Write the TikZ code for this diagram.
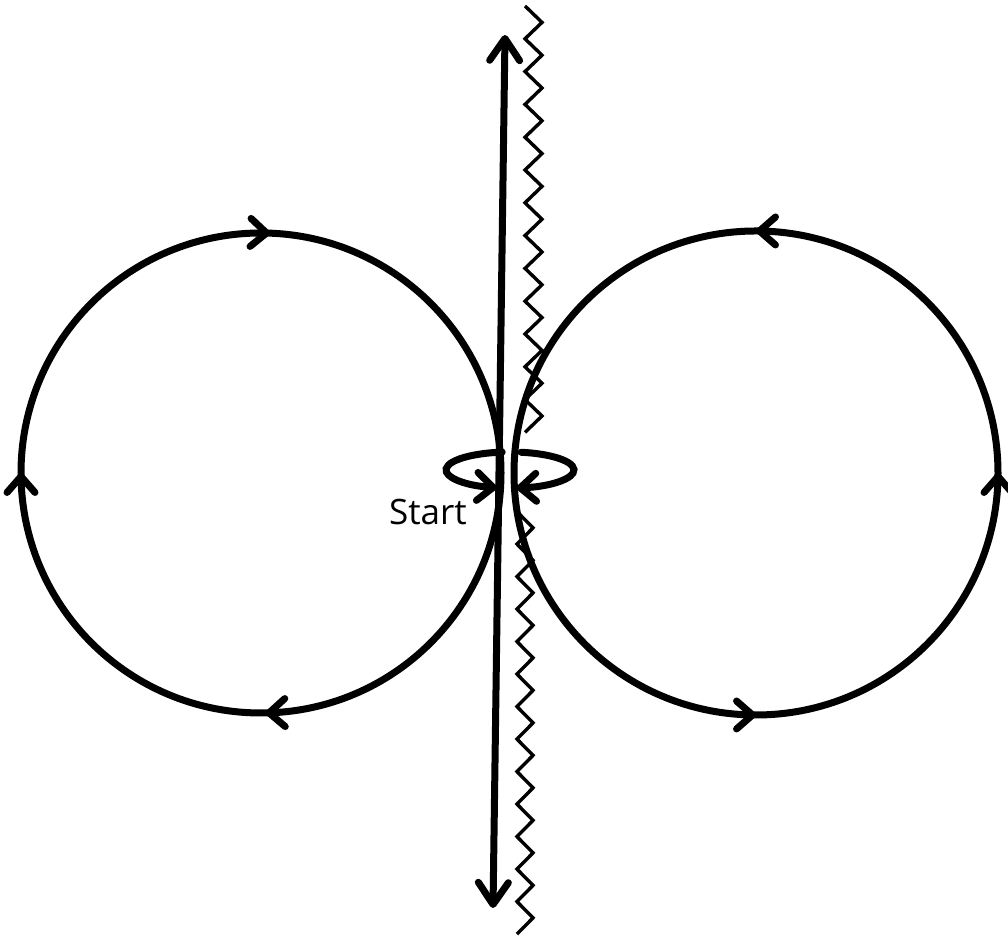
\documentclass[tikz,border=0pt]{standalone}
\usepackage{fontspec}
\setmainfont{Open Sans}
\usetikzlibrary{arrows.meta}
\usetikzlibrary{decorations.markings}

\begin{document}
\begin{tikzpicture}[x=0.5pt, y=0.5pt,
  thickline/.style={line width=3.5pt, line cap=round},
  chev/.tip={Straight Barb[length=8pt, width=14pt, round]},
  bigtip/.tip={Straight Barb[length=11pt, width=15pt, round]},
  flowmark/.style={postaction={decorate, decoration={markings, mark=at position #1 with {\arrow{chev}}}}},
  cutline/.style={line width=1.7pt}]

\useasboundingbox (0,0) rectangle (1008,942);

\coordinate (lc) at (261,469);
\coordinate (rc) at (756,469);
\coordinate (sc) at (510,472);
\coordinate (up) at (505,907);
\coordinate (down) at (493,34);
\coordinate (cuttop) at (525,936);
\coordinate (cutmid) at (517,430.4);

% the two loops
\draw[thickline, flowmark=0.247, flowmark=0.5, flowmark=0.756] (lc) ++(0:240) arc[start angle=0, end angle=-360, radius=240];
\draw[thickline, flowmark=0.25, flowmark=0.5, flowmark=0.75] (rc) ++(180:242) arc[start angle=180, end angle=540, radius=242];

% axis and cut
\draw[thickline, {bigtip}-{bigtip}] (down) -- (up);
\draw[cutline] (cuttop) \foreach \k in {0,...,12} { -- ++(17,-16.4) -- ++(-17,-16.4) };
\draw[cutline] (cutmid) \foreach \k in {0,...,12} { -- ++(16,-16.25) -- ++(-16,-16.25) };

% small turn at the start
\draw[thickline, -{chev}] (sc) ++(97:64 and 18) arc[start angle=97, end angle=258, x radius=64, y radius=18];
\draw[thickline, -{chev}] (sc) ++(80:64 and 18) arc[start angle=80, end angle=-84, x radius=64, y radius=18];

\node[font=\fontsize{17.5}{21}\selectfont] (start) at (428,430) {Start};

\end{tikzpicture}
\end{document}
